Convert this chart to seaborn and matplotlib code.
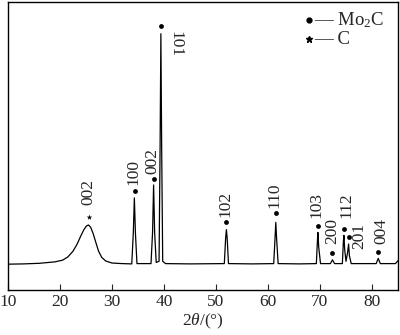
import matplotlib
matplotlib.use("Agg")
import matplotlib.pyplot as plt
import seaborn as sns
import pandas as pd

# ---- data ----
two_theta = [10, 13, 16, 19, 20.5, 21.5, 22.5, 23.3, 24.0, 24.6, 25.1, 25.5, 25.9, 26.4, 26.9,
             27.4, 28.0, 28.8, 30, 32, 33.8, 34.1, 34.3, 34.5, 34.8, 37.5, 37.8, 38.0, 38.2,
             38.5, 39.05, 39.25, 39.4, 39.55, 39.75, 40.3, 45, 51.6, 51.85, 52.0, 52.15, 52.4,
             57, 61.1, 61.35, 61.5, 61.65, 61.95, 66, 69.3, 69.5, 69.6, 69.75, 70.1, 72.0, 72.4,
             72.8, 74.3, 74.5, 74.6, 74.75, 75.0, 75.3, 75.5, 75.65, 76.0, 80.8, 81.2, 81.6,
             84.5, 85]
intensity = [9.0, 9.1, 9.3, 9.8, 10.4, 11.5, 13.5, 16.0, 18.8, 21.0, 22.3, 22.6, 21.8, 19.5, 16.5,
             13.6, 11.4, 10.1, 9.4, 9.2, 9.1, 20.0, 32.0, 20.0, 9.2, 9.2, 20.0, 36.5, 20.0,
             9.6, 10.0, 50.0, 89.0, 50.0, 10.0, 9.2, 9.1, 9.2, 18.0, 21.0, 18.0, 9.2,
             9.1, 9.2, 18.0, 23.5, 18.0, 9.2, 9.1, 9.2, 17.0, 20.0, 15.0, 9.2, 9.2, 10.5,
             9.2, 9.2, 17.0, 19.0, 14.0, 10.0, 13.0, 16.0, 12.0, 9.2, 9.2, 11.0, 9.2,
             9.2, 10.2]

mo2c_pos = [34.35, 38.0, 39.4, 52.0, 61.5, 69.6, 72.4, 74.6, 75.5, 81.2]
mo2c_mark_y = [34.4, 38.5, 91.7, 23.6, 26.7, 22.2, 12.8, 21.2, 18.4, 13.2]
mo2c_labels = ["100", "002", "101", "102", "110", "103", "200", "112", "201", "004"]

c_pos = [25.5]
c_mark_y = [25.3]
c_labels = ["002"]

x_ticks = [10, 20, 30, 40, 50, 60, 70, 80]
x_label = "2$\\theta$/(°)"
legend_names = ["— Mo$_2$C", "— C"]

# ---- style ----
sns.set_theme(style="ticks")
plt.rcParams["font.family"] = ["Liberation Serif", "DejaVu Serif"]
plt.rcParams["mathtext.fontset"] = "custom"
plt.rcParams["mathtext.rm"] = "Liberation Serif"
plt.rcParams["mathtext.it"] = "Liberation Serif:italic"

fig = plt.figure(figsize=(4.0, 3.35), dpi=100)
ax = fig.add_axes([0.02, 0.134, 0.975, 0.86])

df = pd.DataFrame({"x": two_theta, "y": intensity})
sns.lineplot(data=df, x="x", y="y", ax=ax, color="black", linewidth=0.9, sort=True)

dm = pd.DataFrame({"x": mo2c_pos, "y": mo2c_mark_y})
sns.scatterplot(data=dm, x="x", y="y", ax=ax, color="black", s=12, marker="o",
                edgecolor="black", linewidth=0)
dc = pd.DataFrame({"x": c_pos, "y": c_mark_y})
sns.scatterplot(data=dc, x="x", y="y", ax=ax, color="black", s=18, marker="*",
                edgecolor="black", linewidth=0)

fs_lab = 12.5
# label offsets (points): layout only
offsets = {"101": (5, -4, 270, "left", "top"),
           "201": (2, 1, 90, "left", "center"),
           "112": (1.5, 8, 90, "center", "bottom"),
           "200": (0, 7, 90, "center", "bottom"),
           "103": (-1, 6, 90, "center", "bottom"),
           "004": (2, 6, 90, "center", "bottom")}
for x, y, t in zip(mo2c_pos, mo2c_mark_y, mo2c_labels):
    dx, dy, rot, ha, va = offsets.get(t, (-1, 4, 90, "center", "bottom"))
    ax.annotate(t, (x, y), xytext=(dx, dy), textcoords="offset points",
                rotation=rot, ha=ha, va=va, fontsize=fs_lab)
for x, y, t in zip(c_pos, c_mark_y, c_labels):
    ax.annotate(t, (x, y), xytext=(0, 9), textcoords="offset points",
                rotation=90, ha="center", va="bottom", fontsize=fs_lab)

# legend (manual)
ax.plot([0.771], [0.936], transform=ax.transAxes, marker="o", color="black",
        markersize=3.5, linestyle="none", clip_on=False)
ax.plot([0.771], [0.870], transform=ax.transAxes, marker="*", color="black",
        markersize=4.5, linestyle="none", clip_on=False)
ax.text(0.785, 0.936, legend_names[0], transform=ax.transAxes, fontsize=13.5,
        va="center", ha="left")
ax.text(0.785, 0.870, legend_names[1], transform=ax.transAxes, fontsize=13.5,
        va="center", ha="left")

ax.set_xlim(10, 85)
ax.set_ylim(0, 100)
ax.set_xticks(x_ticks)
ax.set_yticks([])
ax.set_xlabel(x_label, fontsize=12.5, labelpad=1)
ax.set_ylabel("")
ax.tick_params(axis="x", direction="in", length=4, width=0.8, labelsize=12.5, pad=3,
               top=False)
for s in ax.spines.values():
    s.set_visible(True)
    s.set_linewidth(1.0)
    s.set_color("black")

fig.savefig("out.png", dpi=100)
